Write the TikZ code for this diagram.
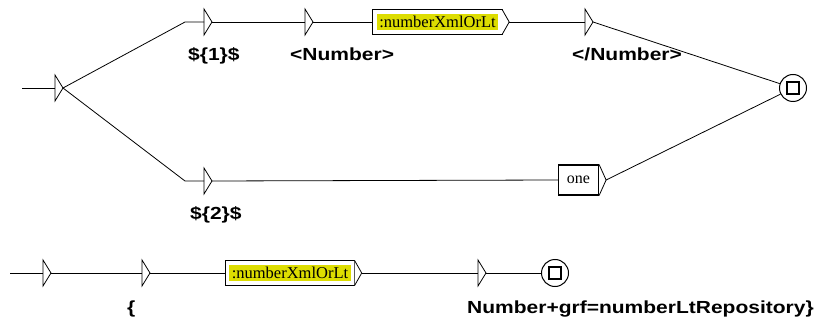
\documentclass[tikz,border=0pt]{standalone}
\usepackage{fontspec}
\newfontfamily\lblfont[FakeStretch=1.2]{Liberation Sans}
\newfontfamily\boxfont{Liberation Serif}
\definecolor{subyellow}{RGB}{221,221,0}
\tikzset{
  conn/.style={line width=0.8pt},
  tri/.style={minimum width=8pt,minimum height=26pt,inner sep=0pt,outer sep=0pt,
    append after command={\pgfextra{\draw[line width=0.8pt,fill=white]
      (\tikzlastnode.north west) -- (\tikzlastnode.east) -- (\tikzlastnode.south west) -- cycle;}}},
  lbl/.style={font=\lblfont\bfseries\fontsize{17.5}{20}\selectfont,inner sep=0pt,anchor=base west},
  graphbox/.style={fill=subyellow,inner sep=2.5pt,outer sep=4pt,
    font=\boxfont\fontsize{16.5}{19}\selectfont,
    append after command={\pgfextra{\draw[line width=1.1pt]
      (\tikzlastnode.north west) rectangle (\tikzlastnode.south east);
      \draw[line width=0.8pt,fill=white] (\tikzlastnode.north east) -- ([xshift=7pt]\tikzlastnode.east) -- (\tikzlastnode.south east);}}},
  wordbox/.style={draw,line width=1.1pt,minimum height=30pt,inner xsep=8.5pt,
    font=\boxfont\fontsize{16}{19}\selectfont,
    append after command={\pgfextra{\draw[line width=0.8pt,fill=white]
      (\tikzlastnode.north east) -- ([xshift=7pt]\tikzlastnode.east) -- (\tikzlastnode.south east);}}},
  final/.style={draw,circle,line width=1pt,minimum size=27pt,inner sep=0pt,
    append after command={\pgfextra{\draw[line width=1.1pt]
      ([shift={(-6,-6)}]\tikzlastnode.center) rectangle ([shift={(6,6)}]\tikzlastnode.center);}}}
}
\begin{document}
\begin{tikzpicture}[x=1pt,y=-1pt]
\useasboundingbox (0,0) rectangle (818,320);
% upper graph
\coordinate (s1) at (22,88);
\node[tri] (i0) at (59,88) {};
\node[tri] (t1) at (208,22) {};
\node[tri] (t2) at (309,22) {};
\node[graphbox] (b1) at (437.5,22) {:numberXmlOrLt};
\node[tri] (t3) at (589,22) {};
\node[final] (f1) at (793,88) {};
\node[tri] (t4) at (208,181) {};
\node[wordbox] (b2) at (578.5,180) {one};
\node[lbl] (o1) at ([shift={(-16,26)}]t1.south west) {\$\{1\}\$};
\node[lbl] (o2) at ([shift={(-15,26)}]t2.south west) {<Number>};
\node[lbl] (o3) at ([shift={(-13,26)}]t3.south west) {</Number>};
\node[lbl] (o4) at ([shift={(-14,25)}]t4.south west) {\$\{2\}\$};
\draw[conn] (s1) -- (i0.west);
\draw[conn] (i0.east) -- ([xshift=-19pt]t1.west) -- (t1.west);
\draw[conn] (t1.east) -- (t2.west);
\draw[conn] (t2.east) -- (b1.west);
\draw[conn] ([xshift=7pt]b1.east) -- (t3.west);
\draw[conn] (t3.east) -- (f1);
\draw[conn] (i0.east) -- ([xshift=-19pt]t4.west) -- (t4.west);
\draw[conn] (t4.east) -- (b2.west);
\draw[conn] ([xshift=7pt]b2.east) -- (f1);
% lower graph
\coordinate (s2) at (10,273);
\node[tri] (t5) at (47,273) {};
\node[tri] (t6) at (146,273) {};
\node[graphbox] (b3) at (290,273) {:numberXmlOrLt};
\node[tri] (t7) at (482,273) {};
\node[final] (f2) at (555,273) {};
\node[lbl] (o5) at ([shift={(-15,27)}]t6.south west) {\{};
\node[lbl] (o6) at ([shift={(-11,27)}]t7.south west) {Number+grf=numberLtRepository\}};
\draw[conn] (s2) -- (t5.west);
\draw[conn] (t5.east) -- (t6.west);
\draw[conn] (t6.east) -- (b3.west);
\draw[conn] ([xshift=7pt]b3.east) -- (t7.west);
\draw[conn] (t7.east) -- (f2);
\end{tikzpicture}
\end{document}
